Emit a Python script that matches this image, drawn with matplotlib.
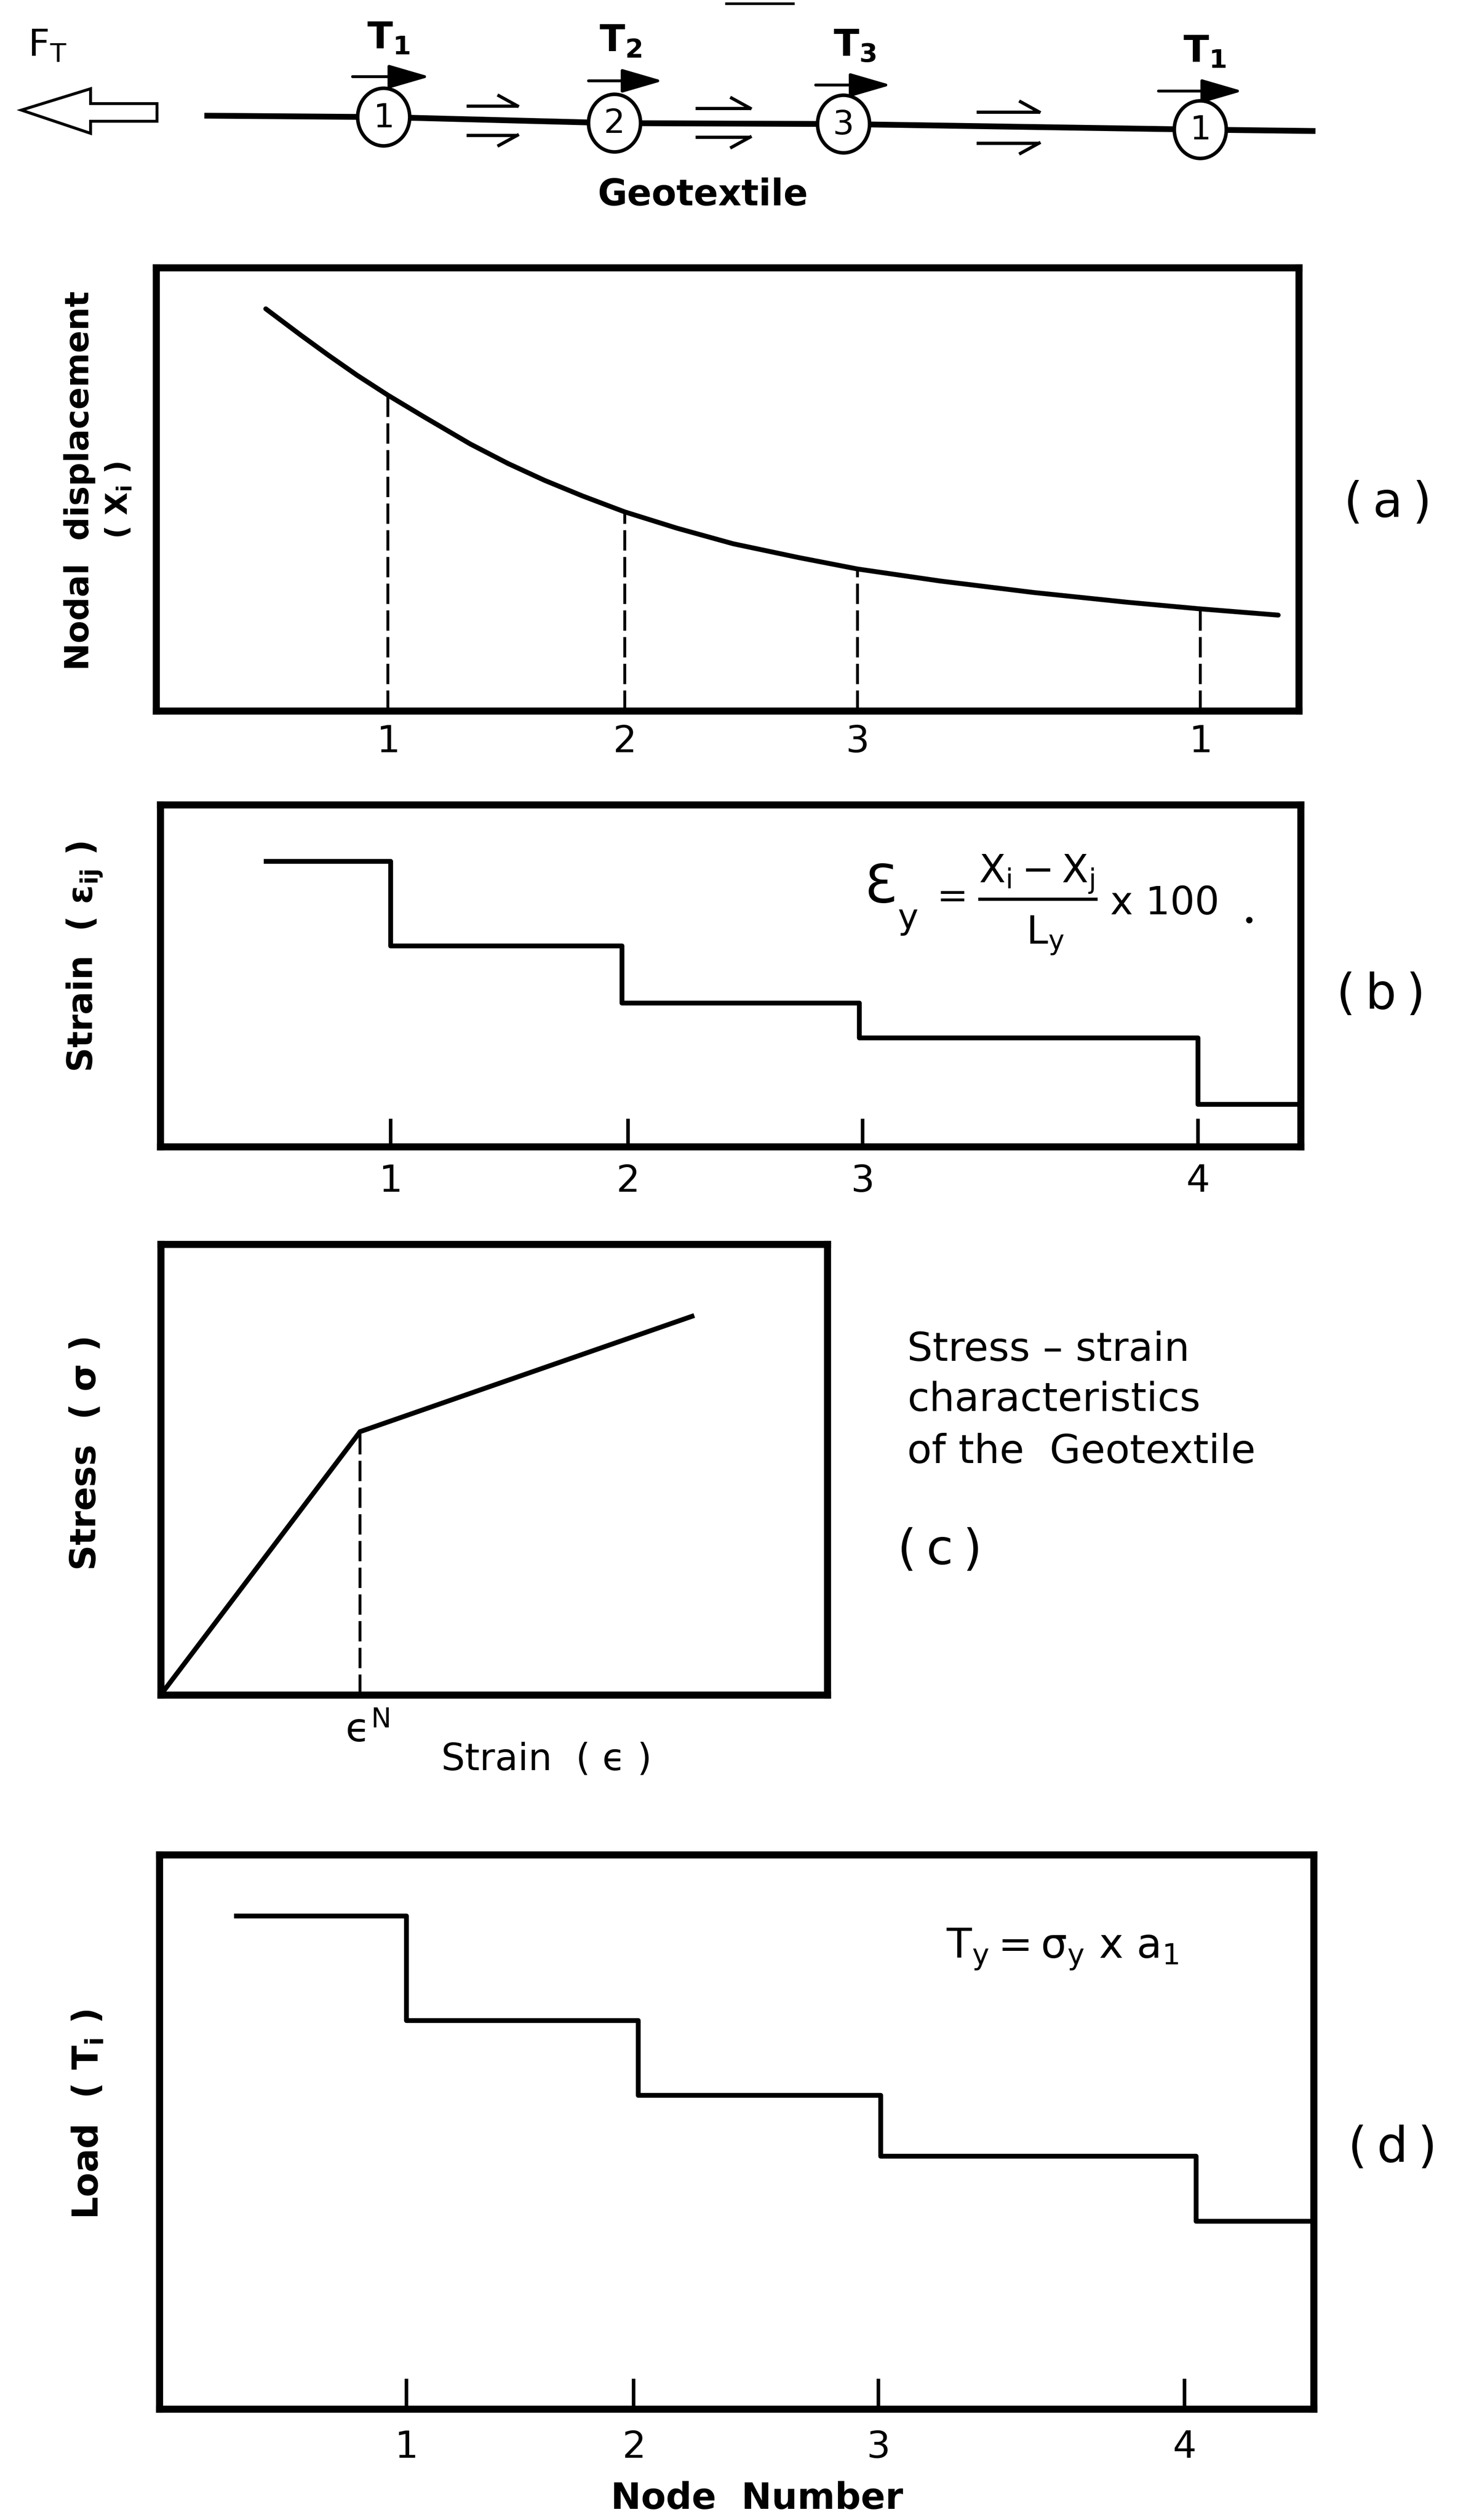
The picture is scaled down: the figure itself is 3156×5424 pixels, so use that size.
import matplotlib
matplotlib.use('Agg')
import matplotlib.pyplot as plt
from matplotlib.patches import Ellipse, Polygon, FancyArrowPatch

plt.rcParams['font.family'] = ['DejaVu Sans']
plt.rcParams['mathtext.fontset'] = 'dejavusans'
plt.rcParams['mathtext.default'] = 'regular'

W, H = 3156, 5424

# ---------------- data (arbitrary units, 0-10 on each panel axis) ----------------
# (a) nodal displacement curve
disp_x = [0.96, 1.27, 1.51, 1.76, 2.03, 2.34, 2.75, 3.08, 3.40, 3.73, 4.10, 4.56,
          5.05, 5.62, 6.14, 6.86, 7.68, 8.50, 9.14, 9.82]
disp_y = [9.07, 8.47, 8.02, 7.57, 7.12, 6.64, 6.02, 5.58, 5.20, 4.85, 4.49, 4.12,
          3.77, 3.46, 3.20, 2.93, 2.67, 2.45, 2.30, 2.16]
node_x_a = [2.03, 4.10, 6.14, 9.14]
node_disp = [7.12, 4.49, 3.20, 2.30]
node_labels_a = ['1', '2', '3', '1']

# (b) strain (step)
strain_edges = [0.93, 2.02, 4.05, 6.13, 9.10, 10.0]
strain_levels = [8.34, 5.87, 4.20, 3.18, 1.24, 1.24]
node_x_b = [2.02, 4.10, 6.16, 9.10]
node_labels = ['1', '2', '3', '4']

# (c) stress-strain (bilinear)
ss_strain = [0.0, 2.99, 7.97]
ss_stress = [0.0, 5.84, 8.40]
eps_n = 2.99

# (d) load (step)
load_edges = [0.67, 2.14, 4.15, 6.25, 8.98, 10.0]
load_levels = [8.89, 7.01, 5.66, 4.56, 3.39, 3.39]
node_x_d = [2.14, 4.11, 6.23, 8.88]

# top schematic (figure pixel units)
geo_line_x = [440, 826, 1323, 1816, 2584, 2832]
geo_line_y = [249, 252, 265, 267, 279, 282]
node_cx = [826, 1323, 1816, 2584]
node_cy = [252, 265, 267, 279]
node_names = ['1', '2', '3', '1']
tension_subs = ['1', '2', '3', '1']
tension_label_xy = [(790, 105), (1290, 112), (1794, 121), (2547, 134)]
tension_arrows = [(759, 925, 165), (1267, 1427, 174), (1756, 1918, 183), (2494, 2675, 196)]
shear_arrows = [(1004, 1114, 228, 291), (1497, 1615, 233, 295), (2102, 2237, 241, 308)]
ft_arrow = [(46, 237), (195, 191), (195, 223), (338, 223), (338, 261), (195, 261), (195, 287)]

FRAME_LW = 11
LINE_LW = 7.5


def rect(l, t, r, b):
    return [l / W, 1 - b / H, (r - l) / W, (b - t) / H]


def style(ax):
    ax.set_xlim(0, 10)
    ax.set_ylim(0, 10)
    ax.set_yticks([])
    ax.set_facecolor('none')
    for s in ax.spines.values():
        s.set_linewidth(FRAME_LW)
        s.set_color('black')


fig = plt.figure(figsize=(W / 100, H / 100), dpi=100)
fig.patch.set_facecolor('white')

# ---------------- panel (a) ----------------
ax_a = fig.add_axes(rect(336, 576, 2796, 1530))
style(ax_a)
ax_a.plot(disp_x, disp_y, color='black', lw=LINE_LW, solid_capstyle='round', solid_joinstyle='round')
for nx, ny in zip(node_x_a, node_disp):
    ax_a.plot([nx, nx], [0, ny], color='black', lw=4.5, ls=(0, (7, 2.2)))
ax_a.set_xticks(node_x_a, node_labels_a)
ax_a.tick_params(axis='x', length=0, pad=20, labelsize=58)

# ---------------- panel (b) ----------------
ax_b = fig.add_axes(rect(345, 1732, 2800, 2468))
style(ax_b)
ax_b.plot(strain_edges, strain_levels, drawstyle='steps-post', color='black', lw=LINE_LW)
ax_b.set_xticks(node_x_b, node_labels)
ax_b.tick_params(axis='x', direction='in', length=43, width=5.5, pad=26, labelsize=58)

# ---------------- panel (c) ----------------
ax_c = fig.add_axes(rect(346, 2678, 1781, 3648))
style(ax_c)
ax_c.set_xticks([])
ax_c.plot(ss_strain, ss_stress, color='black', lw=LINE_LW, solid_joinstyle='miter')
ax_c.plot([eps_n, eps_n], [0, ss_stress[1]], color='black', lw=4.5, ls=(0, (7, 2.2)))

# ---------------- panel (d) ----------------
ax_d = fig.add_axes(rect(343, 3992, 2828, 5185))
style(ax_d)
ax_d.plot(load_edges, load_levels, drawstyle='steps-post', color='black', lw=LINE_LW)
ax_d.set_xticks(node_x_d, node_labels)
ax_d.tick_params(axis='x', direction='in', length=47, width=5.5, pad=32, labelsize=58)

# ---------------- overlay (schematic + annotations) ----------------
ov = fig.add_axes([0, 0, 1, 1], zorder=10)
ov.set_xlim(0, W)
ov.set_ylim(H, 0)
ov.axis('off')

# scan artefact at very top
ov.plot([1564, 1708], [8, 8], color='black', lw=4)

# geotextile line
ov.plot(geo_line_x, geo_line_y, color='black', lw=9, solid_capstyle='butt', zorder=1)
for cx, cy, nm in zip(node_cx, node_cy, node_names):
    ov.add_patch(Ellipse((cx, cy), 112, 124, facecolor='white', edgecolor='black', lw=5.5, zorder=2))
    ov.text(cx, cy + 2, nm, ha='center', va='center', fontsize=52, zorder=3)

for (tx, ty), sub in zip(tension_label_xy, tension_subs):
    ov.text(tx, ty, r'$\mathregular{T_{%s}}$' % sub, ha='left', va='baseline', fontsize=58,
            fontweight='bold')

for x0, x1, y in tension_arrows:
    ov.add_patch(FancyArrowPatch((x0, y), (x1, y), arrowstyle='-|>,head_length=0.55,head_width=0.16',
                                 mutation_scale=100, lw=4.5, color='black', shrinkA=0, shrinkB=0))

for x0, x1, yu, yl in shear_arrows:
    ov.plot([x0, x1], [yu, yu], color='black', lw=5, solid_capstyle='butt')
    ov.plot([x1 - 40, x1], [yu - 22, yu], color='black', lw=5)
    ov.plot([x0, x1], [yl, yl], color='black', lw=5, solid_capstyle='butt')
    ov.plot([x1 - 40, x1], [yl + 22, yl], color='black', lw=5)

ov.add_patch(Polygon(ft_arrow, closed=True, facecolor='white', edgecolor='black', lw=4.5))
ov.text(60, 121, r'$\mathregular{F_T}$', ha='left', va='baseline', fontsize=58)

ov.text(1513, 420, 'Geotextile', ha='center', va='center', fontsize=56, fontweight='bold')

# y-axis labels
ov.text(172, 1035, 'Nodal  displacement', rotation=90, ha='center', va='center', fontsize=51,
        fontweight='bold')
ov.text(256, 1077, r'( $\mathregular{X_i}$ )', rotation=90, ha='center', va='center', fontsize=46,
        fontweight='bold')
ov.text(182, 2060, r'Strain  ( $\mathregular{\varepsilon_{ij}}$ )', rotation=90, ha='center', va='center',
        fontsize=53, fontweight='bold')
ov.text(185, 3130, r'Stress  ( $\sigma$ )', rotation=90, ha='center', va='center', fontsize=55,
        fontweight='bold')
ov.text(190, 4551, r'Load  ( $\mathregular{T_i}$ )', rotation=90, ha='center', va='center', fontsize=55,
        fontweight='bold')

# panel tags
ov.text(2988, 1084, '(\u2009a\u2009)', ha='center', va='center', fontsize=76)
ov.text(2973, 2142, '(\u2009b\u2009)', ha='center', va='center', fontsize=76)
ov.text(2023, 3338, '(\u2009c\u2009)', ha='center', va='center', fontsize=76)
ov.text(2998, 4624, '(\u2009d\u2009)', ha='center', va='center', fontsize=76)

# equation (b)
ov.text(1896, 1911, '\u0190', ha='center', va='center', fontsize=82)
ov.text(1955, 1978, 'y', ha='center', va='center', fontsize=54)
ov.text(2050, 1932, '=', ha='center', va='center', fontsize=58)
ov.plot([2109, 2359], [1935, 1935], color='black', lw=5)
ov.text(2232, 1899, r'$\mathregular{X_i - X_j}$', ha='center', va='baseline', fontsize=60)
ov.text(2250, 2031, r'$\mathregular{L_y}$', ha='center', va='baseline', fontsize=60)
ov.text(2390, 1968, 'x 100', ha='left', va='baseline', fontsize=60)
ov.plot([2689], [1980], 'o', color='black', ms=9)

# panel (c) texts
ov.text(1953, 2929, 'Stress \u2013 strain', ha='left', va='baseline', fontsize=62)
ov.text(1953, 3037, 'characteristics', ha='left', va='baseline', fontsize=62)
ov.text(1953, 3149, 'of the  Geotextile', ha='left', va='baseline', fontsize=62)
ov.text(770, 3748, '\u03f5', ha='center', va='baseline', fontsize=62)
ov.text(820, 3718, 'N', ha='center', va='baseline', fontsize=42)
ov.text(1177, 3788, 'Strain  ( \u03f5 )', ha='center', va='center', fontsize=58)

# equation (d)
ov.text(2037, 4214, r'$\mathregular{T_y = \sigma_y}$ x $\mathregular{a_1}$', ha='left', va='baseline',
        fontsize=64)

# x label (d)
ov.text(1630, 5340, 'Node  Number', ha='center', va='top', fontsize=56, fontweight='bold')

fig.savefig('out.png', dpi=100, facecolor='white')
